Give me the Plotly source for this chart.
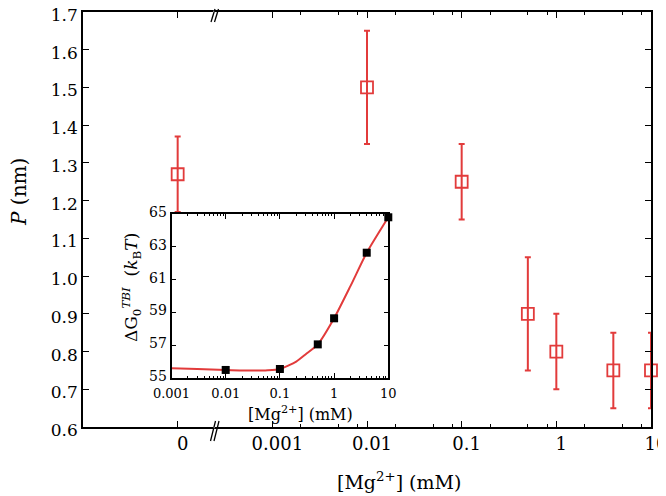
import plotly.graph_objects as go

# ---------------- data ----------------
# main panel: persistence length P vs [Mg2+]; "0" is drawn at 1e-4 on the broken log axis
conc_pos = [1e-4, 0.01, 0.1, 0.5, 1, 4, 10]
P_vals = [1.27, 1.50, 1.25, 0.90, 0.80, 0.75, 0.75]
P_err = [0.10, 0.15, 0.10, 0.15, 0.10, 0.10, 0.10]

x_tickvals = [1e-4, 1e-3, 1e-2, 1e-1, 1, 10]
x_ticktext = ["0", "0.001", "0.01", "0.1", "1", "10"]
x_minor = [0.002, 0.005, 0.008, 0.02, 0.05, 0.08, 0.2, 0.5, 0.8, 2, 5, 8]

# inset: Delta G vs [Mg2+]
inset_x = [0.01, 0.1, 0.5, 1, 4, 10]
inset_dG = [55.49, 55.55, 57.05, 58.64, 62.64, 64.8]
fit_x = [0.001, 0.003, 0.01, 0.03, 0.06, 0.1, 0.2, 0.3, 0.5, 1, 2, 4, 10]
fit_y = [55.6, 55.55, 55.49, 55.45, 55.47, 55.55, 56.0, 56.45, 57.05, 58.64, 60.6, 62.64, 64.8]

inset_tickvals = [0.001, 0.01, 0.1, 1, 10]
inset_ticktext = ["0.001", "0.01", "0.1", "1", "10"]
inset_minor = [m * d for d in [0.001, 0.01, 0.1, 1] for m in range(2, 10)]

RED = "#e23b3b"
FONT = "DejaVu Serif"

fig = go.Figure()

fig.add_trace(go.Scatter(
    x=conc_pos, y=P_vals, mode="markers",
    marker=dict(symbol="square-open", size=12, color=RED, line=dict(width=1.8, color=RED)),
    error_y=dict(type="data", array=P_err, color=RED, thickness=2, width=3),
    cliponaxis=False, showlegend=False, xaxis="x", yaxis="y"))

fig.add_trace(go.Scatter(
    x=fit_x, y=fit_y, mode="lines", line=dict(color=RED, width=2, shape="spline", smoothing=0.6),
    showlegend=False, xaxis="x2", yaxis="y2", cliponaxis=False))
fig.add_trace(go.Scatter(
    x=inset_x, y=inset_dG, mode="markers",
    marker=dict(symbol="square", size=8, color="black"),
    showlegend=False, xaxis="x2", yaxis="y2", cliponaxis=False))

# page body has an 8px margin; compensate so the plot area lands at screen x 83..651, y 12..427
OFF = 8
SL, ST, SR, SB = 83, 12, 651, 427  # plot area in screen pixels
W, H = 666 - OFF, 496 - OFF
L, T = SL - OFF, ST - OFF
pw, ph = SR - SL, SB - ST
R, B = W - L - pw, H - T - ph

def px(xpix):
    return (xpix - SL) / pw

def py(ypix):
    return (SB - ypix) / ph

axis_common = dict(showline=True, linecolor="black", linewidth=1.5, mirror="ticks",
                   ticks="inside", tickcolor="black", showgrid=False, zeroline=False,
                   ticklabeloverflow="allow")

fig.update_layout(
    width=W, height=H, margin=dict(l=L, r=R, t=T, b=B, autoexpand=False),
    paper_bgcolor="white", plot_bgcolor="white",
    font=dict(family=FONT, color="black"),
    xaxis=dict(type="log", range=[-5, 1], tickvals=x_tickvals, ticktext=x_ticktext,
               ticklen=6, tickwidth=1.2, tickfont=dict(size=18), ticklabelshift=5,
               minor=dict(tickvals=x_minor, ticks="inside", ticklen=3, tickwidth=1, tickcolor="black"),
               domain=[0, 1], **axis_common),
    yaxis=dict(range=[0.6, 1.7], dtick=0.1, tick0=0.6, tickformat=".1f", ticklabelshift=3,
               ticklen=6, tickwidth=1.2, tickfont=dict(size=17), domain=[0, 1], **axis_common),
    xaxis2=dict(type="log", range=[-3, 1], tickvals=inset_tickvals, ticktext=inset_ticktext,
                ticklen=5, tickwidth=1.2, tickfont=dict(size=13), anchor="y2", ticklabelstandoff=3,
                minor=dict(tickvals=inset_minor, ticks="inside", ticklen=2.5, tickwidth=1, tickcolor="black"),
                domain=[px(171.5), px(388.3)], **axis_common),
    yaxis2=dict(range=[55, 65], dtick=2, tick0=55, ticklen=5, tickwidth=1.2, ticklabelshift=-2,
                tickfont=dict(size=14), anchor="x2",
                domain=[py(378), py(214)], **axis_common),
)

annotations = [
    dict(text="[Mg<sup>2+</sup>] (mM)", x=px(399), y=py(481), xref="paper", yref="paper",
         showarrow=False, font=dict(size=19), xanchor="center", yanchor="middle"),
    dict(text="<i>P</i> (nm)", x=px(19), y=py(192), xref="paper", yref="paper",
         showarrow=False, font=dict(size=20), textangle=-90, xanchor="center", yanchor="middle"),
    dict(text="[Mg<sup>2+</sup>] (mM)", x=px(300), y=py(413), xref="paper", yref="paper",
         showarrow=False, font=dict(size=16), xanchor="center", yanchor="middle"),
    dict(text="ΔG<sub>0</sub><sup><i>TBI</i></sup>  (<i>k</i><sub>B</sub><i>T</i>)",
         x=px(131), y=py(288), xref="paper", yref="paper",
         showarrow=False, font=dict(size=17), textangle=-90, xanchor="center", yanchor="middle"),
]
fig.update_layout(annotations=annotations)

# axis-break marks "//" on top and bottom axes
shapes = []
xb = px(211.5)
for yanc, (ya, yb), (xa, xbb) in [(1, (-10, 3), (-0.5, 3.5)), (0, (-14, 6), (-1, 4))]:
    shapes.append(dict(type="line", xref="paper", yref="paper", xsizemode="pixel", ysizemode="pixel",
                       xanchor=xb, yanchor=yanc, x0=1.5, x1=3.5, y0=0, y1=0,
                       line=dict(color="white", width=2.5)))
    for dx in [0, 3.5]:
        shapes.append(dict(type="line", xref="paper", yref="paper", xsizemode="pixel", ysizemode="pixel",
                           xanchor=xb, yanchor=yanc, x0=xa + dx, x1=xbb + dx, y0=ya, y1=yb,
                           line=dict(color="black", width=1.3)))
fig.update_layout(shapes=shapes)

fig.write_html("out.html")
